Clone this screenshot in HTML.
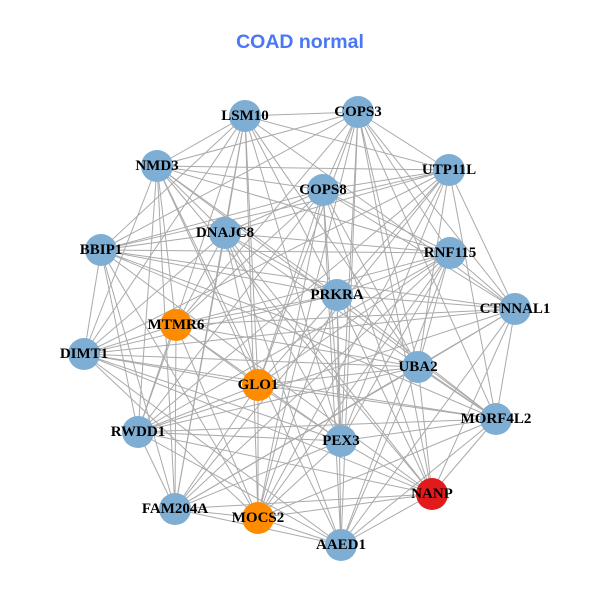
<!DOCTYPE html>
<html><head><meta charset="utf-8"><style>
html,body{margin:0;padding:0;background:#fff;}
svg{display:block;}
text.l{font-family:"Liberation Serif",serif;font-weight:bold;font-size:15px;fill:#000;text-anchor:middle;dominant-baseline:central;}
</style></head><body>
<svg id="s" width="600" height="600" xmlns="http://www.w3.org/2000/svg">
<rect width="600" height="600" fill="#fff"/>
<text x="300" y="42" font-family="Liberation Sans, sans-serif" font-weight="bold" font-size="19.5" fill="#4a78f5" text-anchor="middle" dominant-baseline="central">COAD normal</text>
<g id="e" stroke="#aaaaaa" stroke-width="1"></g>
<g id="n"></g>
</svg>
<script>
var N=[["LSM10",245,116,0],["COPS3",358,112,0],["NMD3",157,166,0],["UTP11L",449,170,0],["COPS8",323,190,0],["DNAJC8",225,233,0],["BBIP1",101,250,0],["RNF115",450,253,0],["PRKRA",337,295,0],["CTNNAL1",515,309,0],["MTMR6",176,325,1],["DIMT1",84,354,0],["UBA2",418,367,0],["GLO1",258,385,1],["MORF4L2",496,419,0],["RWDD1",138,432,0],["PEX3",341,441,0],["NANP",432,494,2],["FAM204A",175,509,0],["MOCS2",258,518,1],["AAED1",341,545,0]];
var ns="http://www.w3.org/2000/svg",e=document.getElementById("e"),g=document.getElementById("n");
for(var i=0;i<N.length;i++)for(var j=i+1;j<N.length;j++){
 if(((i*7+j*13)%10)<3)continue;
 var l=document.createElementNS(ns,"line");
 l.setAttribute("x1",N[i][1]);l.setAttribute("y1",N[i][2]);l.setAttribute("x2",N[j][1]);l.setAttribute("y2",N[j][2]);e.appendChild(l);}
var C=["#7eaed3","#ff8c00","#e31a1c"];
N.forEach(function(d){
 var c=document.createElementNS(ns,"circle");c.setAttribute("cx",d[1]);c.setAttribute("cy",d[2]);c.setAttribute("r",16);c.setAttribute("fill",C[d[3]]);g.appendChild(c);});
N.forEach(function(d){
 var t=document.createElementNS(ns,"text");t.setAttribute("class","l");t.setAttribute("x",d[1]);t.setAttribute("y",d[2]);t.textContent=d[0];g.appendChild(t);});
</script>
</body></html>
